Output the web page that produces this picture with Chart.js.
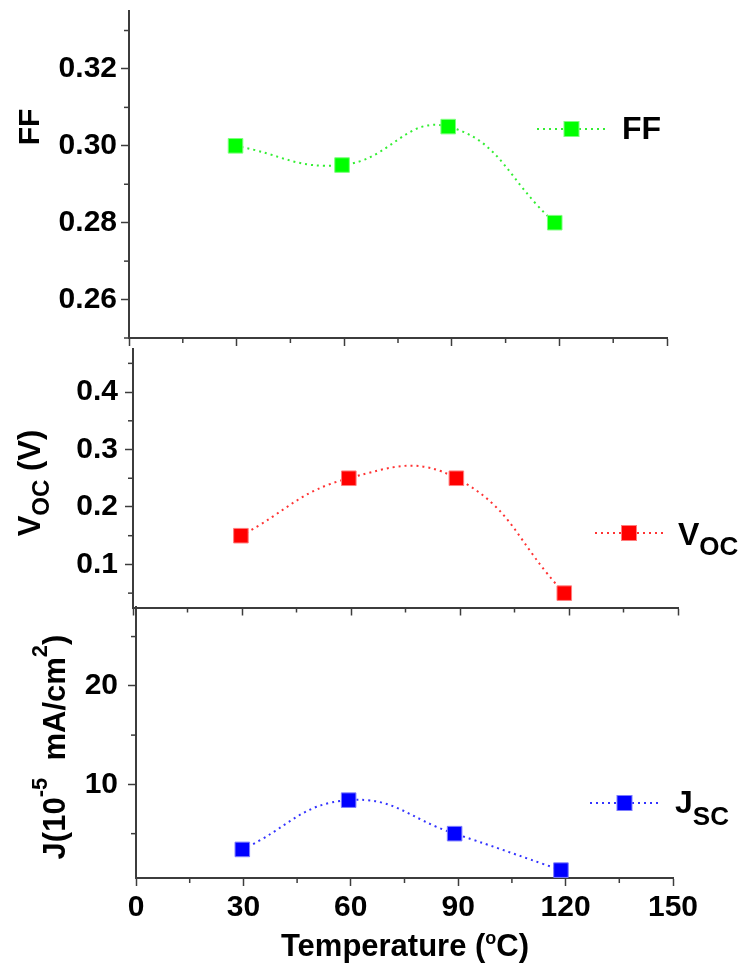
<!DOCTYPE html>
<html><head><meta charset="utf-8">
<script src="https://cdn.jsdelivr.net/npm/chart.js@4.4.1/dist/chart.umd.min.js"></script>
<style>
html,body{margin:0;padding:0;background:#fff;}
#wrap{position:relative;width:747px;height:970px;overflow:hidden;}
canvas{position:absolute;left:0;top:0;}
</style></head><body>
<div id="wrap">
<canvas id="cFF" width="747" height="970"></canvas>
<canvas id="cVOC" width="747" height="970"></canvas>
<canvas id="cJSC" width="747" height="970"></canvas>
</div>
<script>
// ---- data ----
const temperatures = [29.7, 59.4, 89.0, 118.7];
const ffValues = [0.300, 0.295, 0.305, 0.280];
const vocValues = [0.15, 0.25, 0.25, 0.05];
const jscValues = [3.4, 8.4, 5.0, 1.3];
const xTicks = [0, 30, 60, 90, 120, 150];
const ffTicks = [0.26, 0.28, 0.30, 0.32];
const vocTicks = [0.1, 0.2, 0.3, 0.4];
const jscTicks = [10, 20];

const FONT = '"Liberation Sans", Arial, Helvetica, sans-serif';
const AXIS = '#3c3c3c';
const W = 747, H = 970;

function setFont(ctx, size){ ctx.font = 'bold ' + size + 'px ' + FONT; }
function richWidth(ctx, parts){
  let w = 0;
  parts.forEach(p => { setFont(ctx, p.size); w += ctx.measureText(p.t).width; });
  return w;
}
function drawRich(ctx, parts, x, y, rotate, align){
  ctx.save();
  ctx.translate(x, y);
  if (rotate) ctx.rotate(rotate);
  const w = richWidth(ctx, parts);
  let cx = align === 'center' ? -w / 2 : 0;
  ctx.fillStyle = '#000';
  ctx.textBaseline = 'alphabetic';
  ctx.textAlign = 'left';
  parts.forEach(p => {
    setFont(ctx, p.size);
    ctx.fillText(p.t, cx, p.dy || 0);
    cx += ctx.measureText(p.t).width;
  });
  ctx.restore();
}

const decoPlugin = {
  id: 'deco',
  afterDraw(chart, args, o) {
    const ctx = chart.ctx;
    const area = chart.chartArea;
    // minor ticks
    ['x', 'y'].forEach(k => {
      const s = chart.scales[k];
      const step = o.minor[k];
      ctx.save();
      ctx.strokeStyle = AXIS;
      ctx.lineWidth = 1.5;
      const i0 = Math.ceil(s.min / step - 1e-6), i1 = Math.floor(s.max / step + 1e-6);
      for (let i = i0; i <= i1; i++) {
        if (i % 2 === 0) continue;
        const p = s.getPixelForValue(i * step);
        ctx.beginPath();
        if (k === 'x') { ctx.moveTo(p, area.bottom); ctx.lineTo(p, area.bottom + 5); }
        else { ctx.moveTo(area.left, p); ctx.lineTo(area.left - 5, p); }
        ctx.stroke();
      }
      ctx.restore();
    });
    // legend sample
    const ds = chart.data.datasets[0];
    const L = o.legend;
    ctx.save();
    ctx.strokeStyle = ds.borderColor;
    ctx.lineWidth = ds.borderWidth;
    ctx.setLineDash(ds.borderDash);
    ctx.beginPath();
    ctx.moveTo(L.x1, L.y); ctx.lineTo(L.x2, L.y);
    ctx.stroke();
    ctx.setLineDash([]);
    ctx.fillStyle = ds.pointBackgroundColor;
    ctx.strokeStyle = ds.pointBorderColor;
    ctx.lineWidth = 1;
    const cx = (L.x1 + L.x2) / 2, hs = 7.5;
    ctx.fillRect(cx - hs, L.y - hs, 2 * hs, 2 * hs);
    ctx.strokeRect(cx - hs, L.y - hs, 2 * hs, 2 * hs);
    ctx.restore();
    drawRich(ctx, L.text, L.tx, L.ty, 0, 'left');
    // axis titles
    (o.titles || []).forEach(t => drawRich(ctx, t.parts, t.x, t.y, t.rot, 'center'));
  }
};

function makePanel(id, p) {
  return new Chart(document.getElementById(id), {
    type: 'line',
    data: {
      datasets: [{
        label: p.label,
        data: temperatures.map((t, i) => ({ x: t, y: p.values[i] })),
        borderColor: p.lineColor,
        borderWidth: 2,
        borderDash: [2, 4],
        tension: 0.45,
        fill: false,
        clip: false,
        pointStyle: 'rect',
        pointRadius: 10.3,
        pointBorderWidth: 1,
        pointBackgroundColor: p.color,
        pointBorderColor: p.pointBorder
      }]
    },
    options: {
      responsive: false,
      animation: false,
      events: [],
      layout: { padding: { top: p.area.top, right: W - p.area.right, bottom: H - p.area.bottom - p.xH, left: 0 } },
      plugins: {
        legend: { display: false },
        tooltip: { enabled: false },
        deco: { minor: { x: 15, y: p.minorY }, legend: p.legend, titles: p.titles }
      },
      scales: {
        x: {
          type: 'linear', min: 0, max: 150,
          afterBuildTicks: s => { s.ticks = xTicks.map(v => ({ value: v })); },
          afterFit: s => { s.height = p.xH; s.paddingLeft = 0; s.paddingRight = 0; },
          grid: { display: true, drawOnChartArea: false, drawTicks: true, tickLength: 8, tickWidth: 1.5, tickColor: AXIS },
          border: { display: true, color: AXIS, width: 2 },
          ticks: { display: p.showX, color: '#000', padding: 4, maxRotation: 0, autoSkip: false,
                   font: { family: FONT, size: 30, weight: 'bold' } }
        },
        y: {
          type: 'linear', min: p.yMin, max: p.yMax,
          afterBuildTicks: s => { s.ticks = p.yTicks.map(v => ({ value: v })); },
          afterFit: s => { s.width = p.area.left; s.paddingTop = 0; s.paddingBottom = 0; },
          grid: { display: true, drawOnChartArea: false, drawTicks: true, tickLength: 8, tickWidth: 1.5, tickColor: AXIS },
          border: { display: true, color: AXIS, width: 2 },
          ticks: { color: '#000', padding: p.yPad, autoSkip: false,
                   callback: v => p.fmt(v),
                   font: { family: FONT, size: 30, weight: 'bold' } }
        }
      }
    },
    plugins: [decoPlugin]
  });
}

makePanel('cFF', {
  label: 'FF', values: ffValues, color: '#00ff00', lineColor: '#33ee33', pointBorder: '#7dff7d',
  area: { left: 129, right: 667, top: 10, bottom: 338 }, xH: 20, showX: false,
  yMin: 0.25, yMax: 0.335, yTicks: ffTicks, minorY: 0.01, yPad: 4, fmt: v => v.toFixed(2),
  legend: { x1: 537, x2: 606, y: 129, tx: 622, ty: 139, text: [{ t: 'FF', size: 32 }] },
  titles: [{ parts: [{ t: 'FF', size: 30 }], x: 39, y: 127, rot: -Math.PI / 2 }]
});

makePanel('cVOC', {
  label: 'VOC', values: vocValues, color: '#ff0000', lineColor: '#ff3333', pointBorder: '#ff7d7d',
  area: { left: 133, right: 678, top: 349, bottom: 607.5 }, xH: 20, showX: false,
  yMin: 0.025, yMax: 0.475, yTicks: vocTicks, minorY: 0.05, yPad: 7, fmt: v => v.toFixed(1),
  legend: { x1: 595, x2: 663, y: 533, tx: 678, ty: 545, text: [{ t: 'V', size: 32 }, { t: 'OC', size: 26, dy: 10 }] },
  titles: [{ parts: [{ t: 'V', size: 31 }, { t: 'OC', size: 24, dy: 9 }, { t: ' (V)', size: 31 }], x: 40, y: 483, rot: -Math.PI / 2 }]
});

makePanel('cJSC', {
  label: 'JSC', values: jscValues, color: '#0000ff', lineColor: '#3333ff', pointBorder: '#7d7dff',
  area: { left: 136, right: 673, top: 607, bottom: 878 }, xH: 92, showX: true,
  yMin: 0.5, yMax: 28, yTicks: jscTicks, minorY: 5, yPad: 10, fmt: v => String(v),
  legend: { x1: 590, x2: 659, y: 803, tx: 675, ty: 813, text: [{ t: 'J', size: 32 }, { t: 'SC', size: 26, dy: 12 }] },
  titles: [
    { parts: [{ t: 'J(10', size: 31 }, { t: '-5', size: 22, dy: -18 }, { t: '  mA/cm', size: 31 }, { t: '2', size: 22, dy: -18 }, { t: ')', size: 31 }], x: 65, y: 747, rot: -Math.PI / 2 },
    { parts: [{ t: 'Temperature (', size: 31 }, { t: 'o', size: 18, dy: -12 }, { t: 'C)', size: 31 }], x: 405, y: 956, rot: 0 }
  ]
});
</script>
</body></html>
